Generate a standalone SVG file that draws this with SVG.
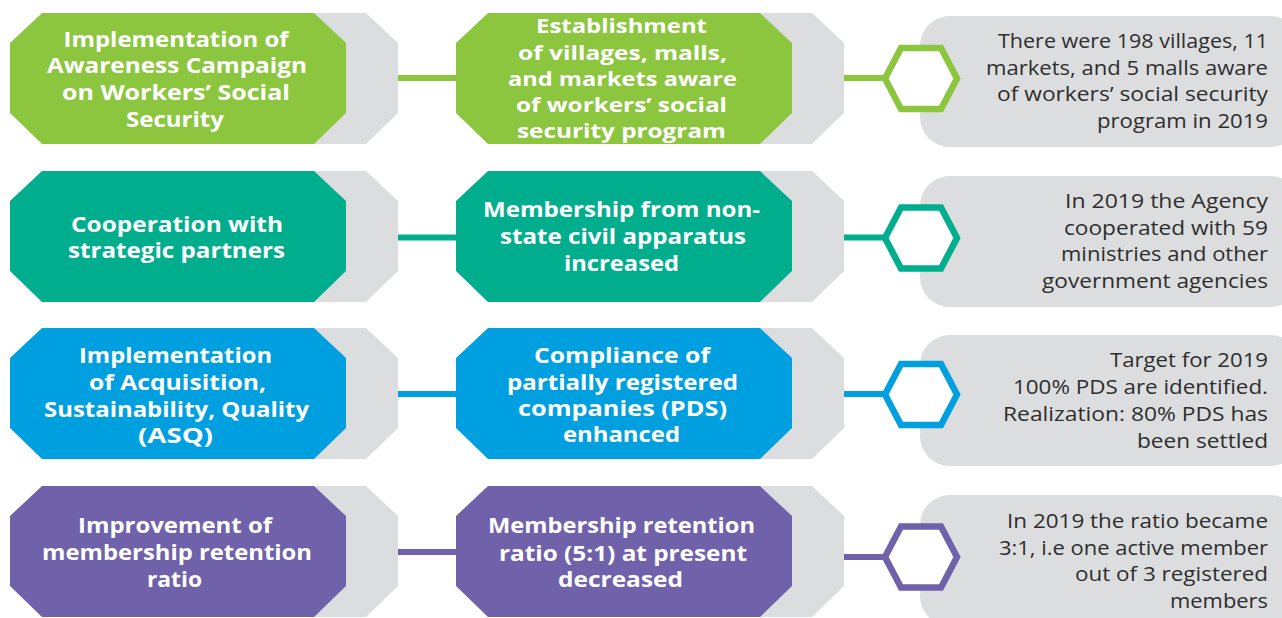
<svg xmlns="http://www.w3.org/2000/svg" xmlns:xlink="http://www.w3.org/1999/xlink" width="1282" height="618" viewBox="0 0 1282 618">
<style>
.g{fill:#8CC63F}.t{fill:#00AE8E}.b{fill:#009FDF}.p{fill:#6F62AA}
.sh{fill:#DCDDDF}
.box{fill:#DCDDDF}
.ln{stroke-width:6;fill:none}
.lg{stroke:#8CC63F}.lt{stroke:#00AE8E}.lb{stroke:#009FDF}.lp{stroke:#6F62AA}
.hx{fill:#FFFFFF;stroke-width:6.5;stroke-linejoin:miter}
.bt{font-family:"Open Sans","Liberation Sans",sans-serif;font-weight:700;font-size:21px;fill:#FFFFFF;text-anchor:middle}
.bs{font-size:19.5px}
.rt{font-family:"Open Sans","Liberation Sans",sans-serif;font-weight:400;font-size:20px;fill:#2E2E2E;text-anchor:end}
</style>
<defs>
<polygon id="oct" points="32,0 304,0 336,30 336,100 304,131 32,131 0,100 0,30"/>
<polygon id="hex" points="-36,0 -20,-30.5 20,-30.5 36,0 20,30.5 -20,30.5"/>
</defs>

<g id="info-boxes">
<rect class="box" x="920" y="16" width="380" height="131" rx="30"/>
<rect class="box" x="920" y="176" width="380" height="131" rx="30"/>
<rect class="box" x="920" y="335" width="380" height="131" rx="30"/>
<rect class="box" x="920" y="495" width="380" height="131" rx="30"/>
</g>

<g id="connectors">
<line class="ln lg" x1="396" y1="78" x2="458" y2="78"/>
<line class="ln lg" x1="842" y1="78" x2="886" y2="78"/>
<line class="ln lt" x1="396" y1="237.5" x2="458" y2="237.5"/>
<line class="ln lt" x1="842" y1="237.5" x2="886" y2="237.5"/>
<line class="ln lb" x1="396" y1="394" x2="458" y2="394"/>
<line class="ln lb" x1="842" y1="394" x2="886" y2="394"/>
<line class="ln lp" x1="396" y1="552" x2="458" y2="552"/>
<line class="ln lp" x1="842" y1="557" x2="886" y2="557"/>
</g>

<!-- Row 1 -->
<g id="r1-activity">
<use xlink:href="#oct" class="sh" x="62" y="13"/>
<use xlink:href="#oct" class="g" x="10" y="13"/>
<text class="bt"><tspan x="176" y="47" textLength="225" lengthAdjust="spacingAndGlyphs">Implementation of</tspan><tspan x="177" y="73" textLength="260" lengthAdjust="spacingAndGlyphs">Awareness Campaign</tspan><tspan x="176" y="100" textLength="228" lengthAdjust="spacingAndGlyphs">on Workers’ Social</tspan><tspan x="175" y="127" textLength="98" lengthAdjust="spacingAndGlyphs">Security</tspan></text>
</g>
<g id="r1-output">
<use xlink:href="#oct" class="sh" x="508" y="13"/>
<use xlink:href="#oct" class="g" x="456" y="13"/>
<text class="bt bs"><tspan x="621.5" y="33" textLength="171" lengthAdjust="spacingAndGlyphs">Establishment</tspan><tspan x="622.5" y="59.5" textLength="209" lengthAdjust="spacingAndGlyphs">of villages, malls,</tspan><tspan x="622.5" y="86" textLength="229" lengthAdjust="spacingAndGlyphs">and markets aware</tspan><tspan x="621.5" y="112" textLength="211" lengthAdjust="spacingAndGlyphs">of workers’ social</tspan><tspan x="621.5" y="138" textLength="209" lengthAdjust="spacingAndGlyphs">security program</tspan></text>
</g>
<g id="r1-result">
<use xlink:href="#hex" class="hx lg" x="921" y="78.5"/>
<text class="rt"><tspan x="1268" y="48" textLength="270" lengthAdjust="spacingAndGlyphs">There were 198 villages, 11</tspan><tspan x="1268" y="75" textLength="282" lengthAdjust="spacingAndGlyphs">markets, and 5 malls aware</tspan><tspan x="1268" y="101" textLength="271" lengthAdjust="spacingAndGlyphs">of workers’ social security</tspan><tspan x="1268" y="128" textLength="171" lengthAdjust="spacingAndGlyphs">program in 2019</tspan></text>
</g>

<!-- Row 2 -->
<g id="r2-activity">
<use xlink:href="#oct" class="sh" x="62" y="171"/>
<use xlink:href="#oct" class="t" x="10" y="171"/>
<text class="bt"><tspan x="177" y="232" textLength="212" lengthAdjust="spacingAndGlyphs">Cooperation with</tspan><tspan x="176.5" y="258" textLength="217" lengthAdjust="spacingAndGlyphs">strategic partners</tspan></text>
</g>
<g id="r2-output">
<use xlink:href="#oct" class="sh" x="508" y="171"/>
<use xlink:href="#oct" class="t" x="456" y="171"/>
<text class="bt"><tspan x="621.5" y="217" textLength="277" lengthAdjust="spacingAndGlyphs">Membership from non-</tspan><tspan x="623" y="244" textLength="246" lengthAdjust="spacingAndGlyphs">state civil apparatus</tspan><tspan x="621.5" y="271" textLength="115" lengthAdjust="spacingAndGlyphs">increased</tspan></text>
</g>
<g id="r2-result">
<use xlink:href="#hex" class="hx lt" x="921" y="238"/>
<text class="rt"><tspan x="1268" y="208" textLength="203" lengthAdjust="spacingAndGlyphs">In 2019 the Agency</tspan><tspan x="1268" y="235" textLength="204" lengthAdjust="spacingAndGlyphs">cooperated with 59</tspan><tspan x="1268" y="261" textLength="207" lengthAdjust="spacingAndGlyphs">ministries and other</tspan><tspan x="1268" y="288" textLength="226" lengthAdjust="spacingAndGlyphs">government agencies</tspan></text>
</g>

<!-- Row 3 -->
<g id="r3-activity">
<use xlink:href="#oct" class="sh" x="62" y="328"/>
<use xlink:href="#oct" class="b" x="10" y="328"/>
<text class="bt"><tspan x="175.5" y="363" textLength="193" lengthAdjust="spacingAndGlyphs">Implementation</tspan><tspan x="177.5" y="390" textLength="177" lengthAdjust="spacingAndGlyphs">of Acquisition,</tspan><tspan x="176.5" y="417" textLength="265" lengthAdjust="spacingAndGlyphs">Sustainability, Quality</tspan><tspan x="175.5" y="443" textLength="75" lengthAdjust="spacingAndGlyphs">(ASQ)</tspan></text>
</g>
<g id="r3-output">
<use xlink:href="#oct" class="sh" x="508" y="328"/>
<use xlink:href="#oct" class="b" x="456" y="328"/>
<text class="bt"><tspan x="622" y="363" textLength="176" lengthAdjust="spacingAndGlyphs">Compliance of</tspan><tspan x="622.5" y="390" textLength="231" lengthAdjust="spacingAndGlyphs">partially registered</tspan><tspan x="622.5" y="416" textLength="209" lengthAdjust="spacingAndGlyphs">companies (PDS)</tspan><tspan x="621.5" y="442" textLength="117" lengthAdjust="spacingAndGlyphs">enhanced</tspan></text>
</g>
<g id="r3-result">
<use xlink:href="#hex" class="hx lb" x="921" y="394.5"/>
<text class="rt"><tspan x="1268" y="367" textLength="158" lengthAdjust="spacingAndGlyphs">Target for 2019</tspan><tspan x="1268" y="394" textLength="255" lengthAdjust="spacingAndGlyphs">100% PDS are identified.</tspan><tspan x="1268" y="421" textLength="265" lengthAdjust="spacingAndGlyphs">Realization: 80% PDS has</tspan><tspan x="1268" y="448" textLength="131" lengthAdjust="spacingAndGlyphs">been settled</tspan></text>
</g>

<!-- Row 4 -->
<g id="r4-activity">
<use xlink:href="#oct" class="sh" x="62" y="486"/>
<use xlink:href="#oct" class="p" x="10" y="486"/>
<text class="bt"><tspan x="175" y="533" textLength="194" lengthAdjust="spacingAndGlyphs">Improvement of</tspan><tspan x="177" y="560" textLength="270" lengthAdjust="spacingAndGlyphs">membership retention</tspan><tspan x="174.5" y="587" textLength="55" lengthAdjust="spacingAndGlyphs">ratio</tspan></text>
</g>
<g id="r4-output">
<use xlink:href="#oct" class="sh" x="508" y="486"/>
<use xlink:href="#oct" class="p" x="456" y="486"/>
<text class="bt"><tspan x="621.5" y="533" textLength="267" lengthAdjust="spacingAndGlyphs">Membership retention</tspan><tspan x="623" y="561" textLength="248" lengthAdjust="spacingAndGlyphs">ratio (5:1) at present</tspan><tspan x="620.5" y="587" textLength="125" lengthAdjust="spacingAndGlyphs">decreased</tspan></text>
</g>
<g id="r4-result">
<use xlink:href="#hex" class="hx lp" x="921" y="557"/>
<text class="rt"><tspan x="1268" y="528" textLength="261" lengthAdjust="spacingAndGlyphs">In 2019 the ratio became</tspan><tspan x="1268" y="555" textLength="269" lengthAdjust="spacingAndGlyphs">3:1, i.e one active member</tspan><tspan x="1268" y="581" textLength="193" lengthAdjust="spacingAndGlyphs">out of 3 registered</tspan><tspan x="1268" y="608" textLength="98" lengthAdjust="spacingAndGlyphs">members</tspan></text>
</g>
</svg>
